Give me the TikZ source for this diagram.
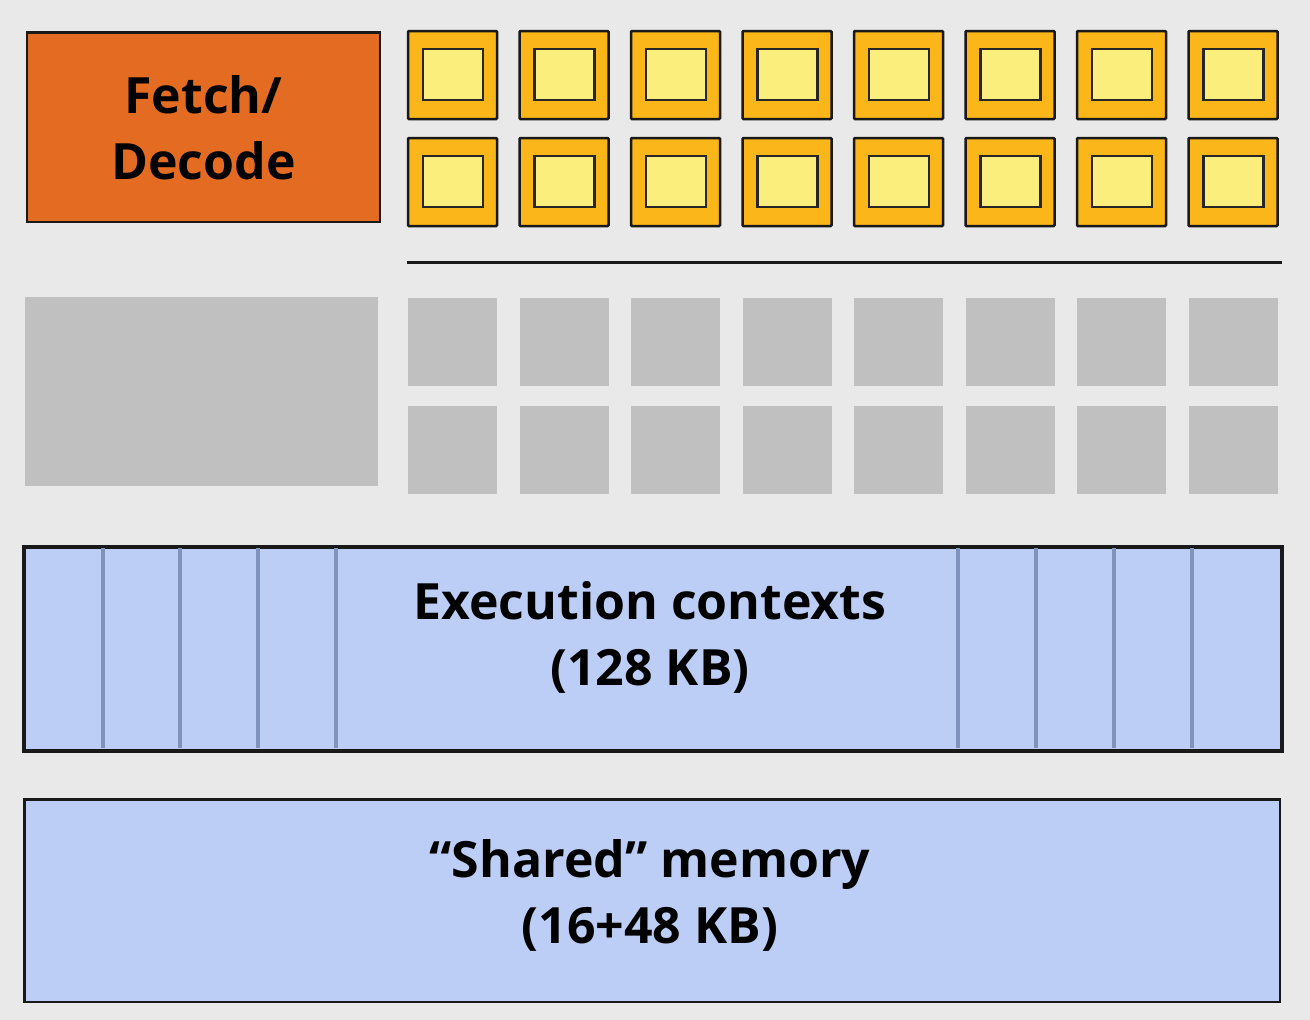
\documentclass[tikz,border=0pt]{standalone}
\usepackage{fontspec}
\setmainfont{Open Sans}
\definecolor{bg}{HTML}{E9E9E9}
\definecolor{fetchc}{HTML}{E36C22}
\definecolor{aluout}{HTML}{FBB619}
\definecolor{aluin}{HTML}{FCEE7C}
\definecolor{grayc}{HTML}{C0C0C0}
\definecolor{blue}{HTML}{BCCEF5}
\definecolor{divc}{HTML}{7F93BD}
\tikzset{
  lbl/.style={font=\bfseries\fontsize{50}{66}\selectfont, align=center, text=black},
  bigbox/.style={draw=black!90, line width=2.5pt, inner sep=0pt, anchor=north west},
  aluo/.style={draw=black!90, fill=aluout, line width=2.5pt, rounded corners=1pt},
  alui/.style={draw=black!85, fill=aluin, line width=2.2pt},
  grayb/.style={fill=grayc},
  divider/.style={draw=divc, line width=3.6pt},
}
\begin{document}
\begin{tikzpicture}[x=1pt,y=-1pt]
\fill[bg] (0,0) rectangle (1310,1020);
\useasboundingbox (0,0) rectangle (1310,1020);
% fetch/decode
\node[bigbox, fill=fetchc, minimum width=353pt, minimum height=189.5pt] (fetch) at (25.75,31.25) {};
\node[lbl] (fetchtxt) at (fetch.center) {Fetch/\\Decode};
% ALUs
\foreach \i in {0,...,7}{
  \foreach \r/\y in {0/31,1/138}{
    \pgfmathsetmacro{\xx}{408+111.5*\i}
    \path[aluo] (\xx,\y) rectangle ++(89,88);
    \path[alui] (\xx+15,\y+18) rectangle ++(60,51);
  }
}
\coordinate (la) at (407,262);
\coordinate (lb) at (1282,262);
\draw[line width=3pt, black!90] (la) -- (lb);
% gray
\fill[grayb] (25,297) rectangle (378,486);
\foreach \i in {0,...,7}{
  \pgfmathsetmacro{\xx}{408+111.5*\i}
  \fill[grayb] (\xx,298) rectangle ++(89,88);
  \fill[grayb] (\xx,406) rectangle ++(89,88);
}
% execution contexts
\node[bigbox, fill=blue, minimum width=1256.5pt, minimum height=202.5pt] (exec) at (23.25,546.25) {};
\foreach \x in {103,180,258,336,958,1036,1114,1192}{
  \draw[divider] (\x,547.5) -- (\x,748);
}
\draw[line width=2.5pt, black!90] (exec.north west) rectangle (exec.south east);
\node[lbl] (exectxt) at (650,637) {Execution contexts\\(128 KB)};
% shared memory
\node[bigbox, fill=blue, minimum width=1255.5pt, minimum height=202.5pt] (mem) at (23.25,798.25) {};
\node[lbl] (memtxt) at (650,895) {“Shared” memory\\(16+48 KB)};
\end{tikzpicture}
\end{document}
